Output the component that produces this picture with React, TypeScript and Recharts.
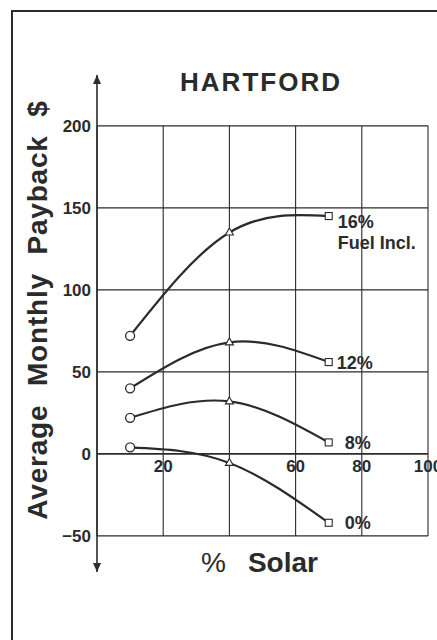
import { LineChart, Line, XAxis, YAxis, ReferenceLine, ReferenceDot } from "recharts";

// values
const solarPct = [10, 40, 70];
const fuel16 = [72, 135, 145];
const rate12 = [40, 68, 56];
const rate8 = [22, 32, 7];
const rate0 = [4, -5.5, -42];

const seriesKeys = ["p16", "p12", "p8", "p0"];
const seriesLabels = ["16%", "12%", "8%", "0%"];
const seriesSubLabels = ["Fuel Incl.", "", "", ""];

const yTicks = [-50, 0, 50, 100, 150, 200];
const xGrid = [0, 20, 40, 60, 80, 100];
const xTickLabels = [20, 60, 80, 100];

const data = solarPct.map((x, i) => ({
  x,
  p16: fuel16[i],
  p12: rate12[i],
  p8: rate8[i],
  p0: rate0[i],
}));

const INK = "#2b2b2b";
const FONT = '"Liberation Sans", Arial, Helvetica, sans-serif';

const labelOffsets: Record<string, { dx: number; dy: number }> = {
  p16: { dx: 9, dy: 5 },
  p12: { dx: 8, dy: 0 },
  p8: { dx: 16, dy: 0 },
  p0: { dx: 16, dy: 0 },
};

function marker(props: any) {
  const { cx, cy, index, dataKey } = props;
  if (cx == null || cy == null) return null;
  const k = `${dataKey}-${index}`;
  if (index === 0) {
    return <circle key={k} cx={cx} cy={cy} r={4.5} fill="#fff" stroke={INK} strokeWidth={1.3} />;
  }
  if (index === 1) {
    return (
      <path
        key={k}
        d={`M${cx},${cy - 4.5} L${cx + 4},${cy + 2.5} L${cx - 4},${cy + 2.5} Z`}
        fill="#fff"
        stroke={INK}
        strokeWidth={1.1}
      />
    );
  }
  return <rect key={k} x={cx - 3.5} y={cy - 3.5} width={7} height={7} fill="#fff" stroke={INK} strokeWidth={1.1} />;
}

function endLabel(seriesIdx: number) {
  const key = seriesKeys[seriesIdx];
  return (props: any) => {
    const { x, y, index } = props;
    if (index !== solarPct.length - 1) return null;
    const off = labelOffsets[key];
    const sub = seriesSubLabels[seriesIdx];
    return (
      <text
        key={`lbl-${key}`}
        x={x + off.dx}
        y={y + off.dy}
        dy="0.36em"
        fontFamily={FONT}
        fontWeight={700}
        fontSize={18}
        fill={INK}
      >
        {seriesLabels[seriesIdx]}
        {sub ? (
          <tspan x={x + off.dx} dy="1.2em">
            {sub}
          </tspan>
        ) : null}
      </text>
    );
  };
}

function arrowUp(props: any) {
  const { cx, cy } = props;
  return <path d={`M${cx},${cy} L${cx + 4},${cy + 9} L${cx - 4},${cy + 9} Z`} fill={INK} />;
}

function arrowDown(props: any) {
  const { cx, cy } = props;
  return <path d={`M${cx},${cy} L${cx + 4},${cy - 9} L${cx - 4},${cy - 9} Z`} fill={INK} />;
}

export default function App() {
  return (
    <div
      style={{
        position: "relative",
        width: 437,
        height: 640,
        overflow: "hidden",
        background: "#fff",
        fontFamily: FONT,
        color: INK,
      }}
    >
      <style>{`body{margin:0}`}</style>
      {/* frame */}
      <div
        style={{
          position: "absolute",
          left: 11,
          top: 10,
          width: 440,
          height: 640,
          borderTop: `2px solid ${INK}`,
          borderLeft: `2px solid ${INK}`,
        }}
      />
      <LineChart
        width={437}
        height={640}
        data={data}
        margin={{ top: 75, right: 9, bottom: 68, left: 37 }}
      >
        <XAxis dataKey="x" type="number" domain={[0, 100]} hide allowDataOverflow />
        <YAxis
          type="number"
          domain={[-72, 231]}
          ticks={yTicks}
          allowDataOverflow
          width={60}
          tickSize={0}
          tickMargin={6}
          tickLine={false}
          axisLine={{ stroke: INK, strokeWidth: 1.6 }}
          tickFormatter={(v: number) => (v < 0 ? `\u2212${Math.abs(v)}` : `${v}`)}
          tick={{ fontFamily: FONT, fontWeight: 700, fontSize: 17, fill: INK }}
        />
        {yTicks.map((v) => (
          <ReferenceLine
            key={`h${v}`}
            segment={[
              { x: 0, y: v },
              { x: 100, y: v },
            ]}
            stroke={INK}
            strokeWidth={v === 0 ? 1.6 : 1.1}
          />
        ))}
        {xGrid.map((v) => (
          <ReferenceLine
            key={`v${v}`}
            segment={[
              { x: v, y: -50 },
              { x: v, y: 200 },
            ]}
            stroke={INK}
            strokeWidth={1.1}
          />
        ))}
        {xTickLabels.map((v) => (
          <ReferenceDot
            key={`xt${v}`}
            x={v}
            y={0}
            r={0}
            stroke="none"
            fill="none"
            label={{
              value: `${v}`,
              position: "bottom",
              offset: 6,
              fontFamily: FONT,
              fontWeight: 700,
              fontSize: 17,
              fill: INK,
            }}
          />
        ))}
        <ReferenceDot x={0} y={231} r={0} shape={arrowUp} />
        <ReferenceDot x={0} y={-72} r={0} shape={arrowDown} />
        {seriesKeys.map((key, i) => (
          <Line
            key={key}
            dataKey={key}
            type="natural"
            stroke={INK}
            strokeWidth={2.2}
            dot={marker}
            activeDot={false}
            label={endLabel(i)}
            isAnimationActive={false}
          />
        ))}
      </LineChart>
      <div
        style={{
          position: "absolute",
          left: 261,
          top: 82,
          transform: "translate(-50%, -50%)",
          fontSize: 26,
          fontWeight: 700,
          letterSpacing: 2,
          whiteSpace: "nowrap",
        }}
      >
        HARTFORD
      </div>
      <div
        style={{
          position: "absolute",
          left: 38,
          top: 310,
          transform: "translate(-50%, -50%) rotate(-90deg)",
          fontSize: 28,
          fontWeight: 700,
          letterSpacing: 0.8,
          wordSpacing: 10,
          whiteSpace: "nowrap",
        }}
      >
        Average Monthly Payback $
      </div>
      <div
        style={{
          position: "absolute",
          left: 201,
          top: 563,
          transform: "translateY(-50%)",
          fontSize: 28,
          whiteSpace: "nowrap",
        }}
      >
        <span style={{ fontWeight: 400 }}>%</span>
        <span style={{ fontWeight: 700, marginLeft: 22 }}>Solar</span>
      </div>
    </div>
  );
}
